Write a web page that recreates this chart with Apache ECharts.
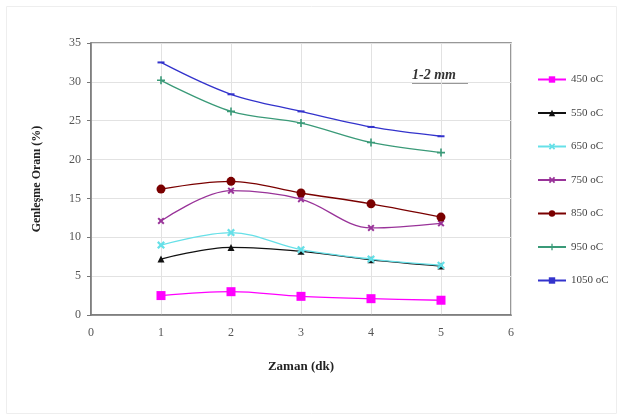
<!DOCTYPE html>
<html>
<head>
<meta charset="utf-8">
<script src="https://cdn.jsdelivr.net/npm/echarts@6/dist/echarts.min.js"></script>
<style>
  html, body { margin: 0; padding: 0; background: #fff; }
  #chart { width: 619px; height: 416px; }
</style>
</head>
<body>
<div id="chart"></div>
<script>
// time (dk) on the x axis
var times = [1, 2, 3, 4, 5];

// expansion ratio (%) for each temperature
var names = ['450 oC', '550 oC', '650 oC', '750 oC', '850 oC', '950 oC', '1050 oC'];
var s450 = [2.5, 3.0, 2.4, 2.1, 1.9];
var s550 = [7.2, 8.7, 8.2, 7.1, 6.3];
var s650 = [9.0, 10.6, 8.4, 7.2, 6.4];
var s750 = [12.1, 16.0, 14.9, 11.2, 11.8];
var s850 = [16.2, 17.2, 15.7, 14.3, 12.6];
var s950 = [30.2, 26.2, 24.7, 22.2, 20.9];
var s1050 = [32.5, 28.4, 26.2, 24.2, 23.0];

var xTicks = [0, 1, 2, 3, 4, 5, 6];
var yTicks = [0, 5, 10, 15, 20, 25, 30, 35];

var allValues = [s450, s550, s650, s750, s850, s950, s1050];
var colors = ['#ff00ff', '#111111', '#66e0e8', '#993399', '#7a0000', '#3a9a78', '#3333cc'];

var xPath = 'path://M0,2L2,0L5,3L8,0L10,2L7,5L10,8L8,10L5,7L2,10L0,8L3,5Z';
var plusPath = 'path://M4,0L6,0L6,4L10,4L10,6L6,6L6,10L4,10L4,6L0,6L0,4L4,4Z';
var dashPath = 'path://M0,0L10,0L10,5L0,5Z';
var symbols = ['rect', 'triangle', xPath, xPath, 'circle', plusPath, dashPath];
var sizes = [9, 7, 8, 7, 9, 8, [7, 4]];

var serif = '"Liberation Serif", "DejaVu Serif", serif';

function pairs(vals) {
    var out = [];
    for (var i = 0; i < times.length; i++) out.push([times[i], vals[i]]);
    return out;
}

var series = [];
for (var i = 0; i < names.length; i++) {
    series.push({
        name: names[i],
        type: 'line',
        smooth: 0.35,
        data: pairs(allValues[i]),
        symbol: symbols[i],
        symbolSize: sizes[i],
        symbolKeepAspect: true,
        showAllSymbol: true,
        lineStyle: { color: colors[i], width: 1.3 },
        itemStyle: { color: colors[i] },
        emphasis: { disabled: true }
    });
}

var myChart = echarts.init(document.getElementById('chart'), null, {renderer: 'canvas'});
var option = {
    backgroundColor: '#fff',
    animation: false,
    color: colors,
    grid: { left: 91, right: 108, top: 43, bottom: 101, show: true, borderColor: '#777', borderWidth: 1.5 },
    legend: {
        orient: 'vertical',
        left: 532,
        top: 69,
        itemWidth: 28,
        itemHeight: 8,
        itemGap: 22.5,
        textStyle: { fontFamily: serif, fontSize: 11, color: '#444' },
        data: names
    },
    xAxis: {
        type: 'value',
        min: 0, max: 6, interval: 1,
        name: 'Zaman (dk)',
        nameLocation: 'middle',
        nameGap: 45,
        nameTextStyle: { fontFamily: serif, fontWeight: 'bold', fontSize: 13, color: '#222' },
        axisLine: { show: true, lineStyle: { color: '#777', width: 1.5 } },
        axisTick: { show: false },
        axisLabel: {
            fontFamily: serif, fontSize: 12, color: '#555', margin: 12,
            formatter: function (v) { return xTicks.indexOf(v) >= 0 ? String(v) : ''; }
        },
        splitLine: { show: true, lineStyle: { color: '#e2e2e2' } }
    },
    yAxis: {
        type: 'value',
        min: 0, max: 35, interval: 5,
        name: 'Genleşme Oranı (%)',
        nameLocation: 'middle',
        nameGap: 48,
        nameTextStyle: { fontFamily: serif, fontWeight: 'bold', fontSize: 12, color: '#222' },
        axisLine: { show: true, lineStyle: { color: '#777', width: 1.5 } },
        axisTick: { show: true, length: 4, lineStyle: { color: '#777' } },
        axisLabel: {
            fontFamily: serif, fontSize: 12, color: '#555', margin: 10,
            formatter: function (v) { return yTicks.indexOf(v) >= 0 ? String(v) : ''; }
        },
        splitLine: { show: true, lineStyle: { color: '#e2e2e2' } }
    },
    graphic: [
        {
            type: 'rect',
            left: 4, top: 4,
            shape: { width: 610, height: 407 },
            style: { fill: 'none', stroke: '#eeeeee', lineWidth: 1 },
            silent: true
        },
        {
            type: 'text',
            left: 412, top: 68,
            style: { text: '1-2 mm', font: 'italic bold 14px ' + serif, fill: '#333' }
        },
        {
            type: 'line',
            shape: { x1: 412, y1: 83, x2: 468, y2: 83 },
            style: { stroke: '#333', lineWidth: 1 }
        }
    ],
    series: series
};
myChart.setOption(option);
</script>
</body>
</html>
